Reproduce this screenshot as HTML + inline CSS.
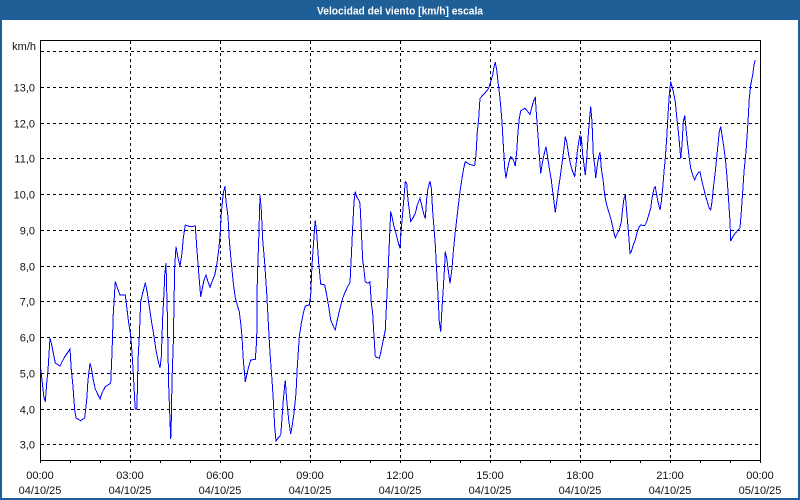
<!DOCTYPE html>
<html><head><meta charset="utf-8">
<style>
html,body{margin:0;padding:0;background:#fff;}
svg{display:block;}
text{font-family:"Liberation Sans",sans-serif;}
</style></head>
<body>
<svg width="800" height="500" viewBox="0 0 800 500" xmlns="http://www.w3.org/2000/svg">
<rect x="0" y="0" width="800" height="500" fill="#1f5f97"/>
<rect x="2" y="20" width="796" height="478" fill="#ffffff"/>
<text x="400" y="14.5" fill="#ffffff" font-size="11" font-weight="bold" text-anchor="middle" textLength="166" lengthAdjust="spacingAndGlyphs">Velocidad del viento [km/h] escala</text>

<g stroke="#000" stroke-width="1" stroke-dasharray="3,3" fill="none">
<line x1="41" y1="51.5" x2="760" y2="51.5"/>
<line x1="41" y1="87.5" x2="760" y2="87.5"/>
<line x1="41" y1="123.5" x2="760" y2="123.5"/>
<line x1="41" y1="158.5" x2="760" y2="158.5"/>
<line x1="41" y1="194.5" x2="760" y2="194.5"/>
<line x1="41" y1="230.5" x2="760" y2="230.5"/>
<line x1="41" y1="266.5" x2="760" y2="266.5"/>
<line x1="41" y1="301.5" x2="760" y2="301.5"/>
<line x1="41" y1="337.5" x2="760" y2="337.5"/>
<line x1="41" y1="373.5" x2="760" y2="373.5"/>
<line x1="41" y1="409.5" x2="760" y2="409.5"/>
<line x1="41" y1="444.5" x2="760" y2="444.5"/>
<line x1="130.5" y1="41" x2="130.5" y2="460"/>
<line x1="220.5" y1="41" x2="220.5" y2="460"/>
<line x1="310.5" y1="41" x2="310.5" y2="460"/>
<line x1="400.5" y1="41" x2="400.5" y2="460"/>
<line x1="490.5" y1="41" x2="490.5" y2="460"/>
<line x1="580.5" y1="41" x2="580.5" y2="460"/>
<line x1="670.5" y1="41" x2="670.5" y2="460"/>
</g>

<rect x="40.5" y="40.5" width="720" height="420" fill="none" stroke="#000" stroke-width="1"/>
<g stroke="#000" stroke-width="1">
<line x1="40.5" y1="460" x2="40.5" y2="463"/>
<line x1="70.5" y1="460" x2="70.5" y2="463"/>
<line x1="100.5" y1="460" x2="100.5" y2="463"/>
<line x1="130.5" y1="460" x2="130.5" y2="463"/>
<line x1="160.5" y1="460" x2="160.5" y2="463"/>
<line x1="190.5" y1="460" x2="190.5" y2="463"/>
<line x1="220.5" y1="460" x2="220.5" y2="463"/>
<line x1="250.5" y1="460" x2="250.5" y2="463"/>
<line x1="280.5" y1="460" x2="280.5" y2="463"/>
<line x1="310.5" y1="460" x2="310.5" y2="463"/>
<line x1="340.5" y1="460" x2="340.5" y2="463"/>
<line x1="370.5" y1="460" x2="370.5" y2="463"/>
<line x1="400.5" y1="460" x2="400.5" y2="463"/>
<line x1="430.5" y1="460" x2="430.5" y2="463"/>
<line x1="460.5" y1="460" x2="460.5" y2="463"/>
<line x1="490.5" y1="460" x2="490.5" y2="463"/>
<line x1="520.5" y1="460" x2="520.5" y2="463"/>
<line x1="550.5" y1="460" x2="550.5" y2="463"/>
<line x1="580.5" y1="460" x2="580.5" y2="463"/>
<line x1="610.5" y1="460" x2="610.5" y2="463"/>
<line x1="640.5" y1="460" x2="640.5" y2="463"/>
<line x1="670.5" y1="460" x2="670.5" y2="463"/>
<line x1="700.5" y1="460" x2="700.5" y2="463"/>
<line x1="730.5" y1="460" x2="730.5" y2="463"/>
<line x1="760.5" y1="460" x2="760.5" y2="463"/>
</g>

<g font-size="11" fill="#111" text-anchor="end">
<text x="36" y="50">km/h</text>
<text x="35" y="91.5">13,0</text>
<text x="35" y="127.5">12,0</text>
<text x="35" y="162.5">11,0</text>
<text x="35" y="198.5">10,0</text>
<text x="35" y="234.5">9,0</text>
<text x="35" y="270.5">8,0</text>
<text x="35" y="305.5">7,0</text>
<text x="35" y="341.5">6,0</text>
<text x="35" y="377.5">5,0</text>
<text x="35" y="413.5">4,0</text>
<text x="35" y="448.5">3,0</text>
</g>

<g font-size="11" fill="#111" text-anchor="middle">
<text x="40" y="479">00:00</text><text x="40" y="494">04/10/25</text>
<text x="130" y="479">03:00</text><text x="130" y="494">04/10/25</text>
<text x="220" y="479">06:00</text><text x="220" y="494">04/10/25</text>
<text x="310" y="479">09:00</text><text x="310" y="494">04/10/25</text>
<text x="400" y="479">12:00</text><text x="400" y="494">04/10/25</text>
<text x="490" y="479">15:00</text><text x="490" y="494">04/10/25</text>
<text x="580" y="479">18:00</text><text x="580" y="494">04/10/25</text>
<text x="670" y="479">21:00</text><text x="670" y="494">04/10/25</text>
<text x="760" y="479">00:00</text><text x="760" y="494">05/10/25</text>
</g>

<polyline fill="none" stroke="#0000ff" stroke-width="1" shape-rendering="crispEdges" points="
40.7,369 42,380 44,398 45.3,401.7 46.7,383 48,370 50,338 51.3,343 53.3,353 55.3,363 60,366 64,358 68,352 70,349 71.3,370 72.7,383 74.7,410 76,418 80.7,420.7 84.7,418 86.7,400 88,380 90,363 91.3,368 93.3,380 95.3,389 100,399 102,393 105.3,386.7 109.3,384 110.7,383 112,353 113.3,313 115.3,281.7 116.7,286 120,295 125.3,295 126.7,306.7 128.7,323 130.7,335 132,353 133.3,373 134.7,400 135.3,409 136.7,409 137.3,393 138,360 139.3,336.7 140.7,301.7 142.7,293 145.3,282.7 147.3,293 149.3,306.7 151.3,320 154,336.7 156,350 158,360 160,368 161.3,356.7 162.7,316.7 164,293 164.7,275 166,263 167.3,313 168.7,386.7 170,420 170.7,439 171.3,420 172,380 173.3,343 174.7,266.7 176,246.7 178,258 180,266 182,253 183.3,238 185.3,225 190,226.7 195.3,226 196.7,246.7 198.7,273 200.7,296.7 202,290 204,280 206,275 208,281.7 210,287.3 212,281.7 214.7,275 216.7,265 218.7,250 220,236.7 221.3,213 223.3,193 225,186
226,201.7 228,216.7 229.3,240 231.3,263 233.3,283 235.3,298 237.3,305 239.3,311.7 240.7,323 242,336.7 243.3,360 244.7,375 245.3,381.7 246.7,375 248.7,366.7 250.7,360 255.3,359.3 256.7,340 257.3,280 258.7,240 260,195 261.3,210 262.7,240 264.7,263 266.7,293 268.7,330 270,353 272,380 273.3,400 274.7,426.7 276,441 278.7,437.3 280.7,435 282,418.3 283.3,400 284.7,385 285.3,380.7 286.7,400 288.7,420 290.7,434 292,426.7 294,413.3 296,393.3 297.3,366.7 299.3,336.7 301.3,323.3 303.3,313.3 305.3,306 309.3,305 310.7,295 312,265 313.3,246.7 314.7,226.7 315.3,220.7 316.7,233.3 318.7,263.3 320.7,284 324.7,285 326.7,295 328.7,306.7 330.7,320 333.3,326 335.3,330 337.3,320 340,308.3 342.7,298.3 345.3,291.7 348,286 350,282.7 351.3,256.7 352.7,226.7 354,201.7 355.3,191.7 356.7,196.7 358.7,200 360,203.3 361.3,230 362.7,260 364,270 365.3,281.7 368,283.3 370,281.7 371.3,303.3 372.7,313.3 374,336.7 375.3,356.7 379.3,358.3 381.3,350 383.3,340 385.3,330 386.7,300 388,273.3 389.3,243.3 390.7,211.7 392,216.7 394,226.7 396,233.3 398,241.7 400,248.3 401.3,228.3 402.7,213.3 404,196.7 405.3,181.7 406.7,183.3 408,200 409.3,210 410.7,221.7 412.7,218.3
415.3,213.3 417.3,205 420,198.3 422,206.7 424,215 425.3,218.3 426.7,198.3 428,188.3 430,181 431.3,188.3 432.7,211.7 434,228.3 435.3,245 436.7,271.7 438,295 439.3,321.7 440.7,331.7 442,308.3 443.3,288.3 444.7,265 445.3,251.7 446.7,258.3 448,268.3 450,283.3 452,268.3 453.3,251.7 455.3,231.7 458,208.3 460,191.7 462,178.3 464,166.7 465.3,161.7 469.3,164.3 474.7,165.7 476,155 477.3,131.7 478.7,118.3 480,98.3 484.7,93.3 488.7,88.3 490.7,81.7 492.7,75 494,66.7 495.3,62.3 496.7,70 498,81.7 500,98.3 502,121.7 503.3,145 504.7,168.3 506,178.3 507.3,170 508.7,163.3 510.7,156.7 512.7,158.3 514,161.7 515.3,166 516.7,151.7 518,131.7 519.3,118.3 520.7,111 524.7,108.3 527.3,111 530,114.3 532,106.7 533.3,101.7 535.3,97.7 536.7,118.3 538,135 539.3,155 540.7,173.3 542,165 543.3,158.3 544.7,151.7 546,146.7 547.3,155 549.3,168.3 551.3,180 552.7,191.7 554,201.7 555.3,212.3 556.7,201.7 558,191.7 560,178.3 562,163.3 564,148.3 565.3,136.7 566.7,141.7 568.7,155 570.7,165 572.7,171.7 574.7,176.7 576,165 577.3,151.7 578.7,141.7 580,135 580.7,145 581.3,136.7 582.7,155 584,165 585.3,175 586.7,158.3 588,138.3 589.3,121.7 590.7,106.7 592,121.7 593.3,155 594.7,165 595.7,178 597.3,165 598.7,157 600,152
601.3,168.3 603.3,181.7 604.7,195 606.7,205 608.7,211.7 610.7,218.3 612.7,226.7 614,233.3 615.3,237.7 617.3,233.3 619.3,230 621.3,221.7 622.7,208.3 624,198.3 625.3,195 626.7,211.7 628.7,235 630,253.3 631.3,251.7 633.3,245 635.3,240 637.3,231.7 639.3,226.7 640.7,225 644.7,225.7 646.7,221.7 648.7,215 650.7,208.3 652,198.3 654,188.3 655.3,186.7 656.7,195 658,201.7 660,210 661.3,201.7 662.7,188.3 664,171.7 665.3,158.3 666.7,138.3 668,115 669.3,95 670.7,81.7 672,86.7 673.3,91.7 675.3,101.7 676.7,116.7 678,128.3 679.3,141.7 680.7,158.3 682,145 683.3,121.7 684.7,115.7 686,128.3 687.3,141.7 689.3,158.3 690.7,168.3 692.7,175 694.7,180 696.7,175 698.7,172.3 700,171.7 701.3,178.3 703.3,186.7 705.3,195 707.3,201.7 709.3,208.3 710.7,210 712,201.7 713.3,188.3 715.3,171.7 717.3,151.7 719.3,131.7 720.7,126.7 722,135 724,148.3 726,165 727.3,181.7 728.7,201.7 730,221.7 730.7,241 732.7,236.7 735.3,233.3 738,230 740,227.7 741.3,211.7 742.7,191.7 744,171.7 746,151.7 748,121.7 749.3,98.3 750.7,85 752.7,75 754,65 755.3,60"/>
</svg>
</body></html>
